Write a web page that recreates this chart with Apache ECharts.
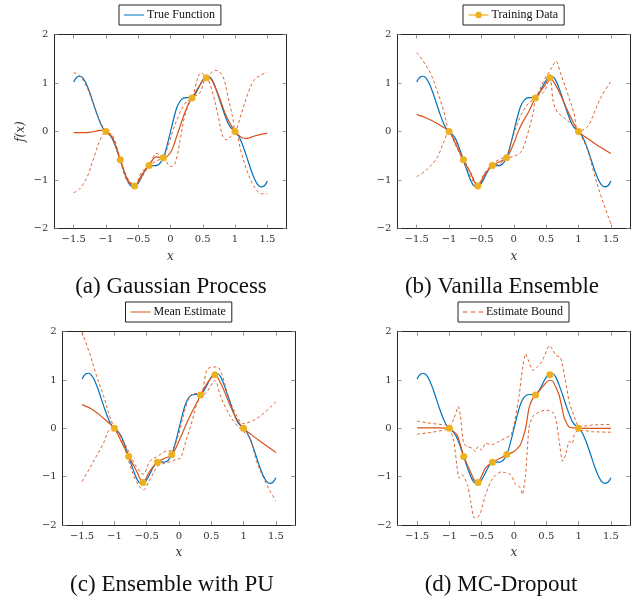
<!DOCTYPE html>
<html>
<head>
<meta charset="utf-8">
<script src="https://cdn.jsdelivr.net/npm/echarts@6/dist/echarts.min.js"></script>
<style>
html,body{margin:0;padding:0;background:#fff;}
#chart{width:634px;height:597px;}
</style>
</head>
<body>
<div id="chart"></div>
<script>
const xTicks = [-1.5, -1, -0.5, 0, 0.5, 1, 1.5];
const yTicks = [-2, -1, 0, 1, 2];
const seriesNames = ['True Function', 'Training Data', 'Mean Estimate', 'Estimate Bound'];
const captions = ['(a) Gaussian Process', '(b) Vanilla Ensemble', '(c) Ensemble with PU', '(d) MC-Dropout'];

const trueFunction = [
[-1.5,1.02],[-1.45,1.12],[-1.4,1.14],[-1.35,1.09],[-1.3,0.97],[-1.25,0.8],[-1.2,0.6],[-1.15,0.4],[-1.1,0.22],[-1.05,0.08],
[-1.0,0.0],[-0.95,-0.06],[-0.9,-0.15],[-0.85,-0.31],[-0.8,-0.5],[-0.75,-0.7],[-0.7,-0.89],[-0.65,-1.05],[-0.6,-1.13],[-0.55,-1.13],
[-0.5,-1.06],[-0.45,-0.94],[-0.4,-0.81],[-0.35,-0.72],[-0.3,-0.7],[-0.25,-0.7],[-0.2,-0.69],[-0.15,-0.63],[-0.1,-0.5],[-0.05,-0.27],
[0.0,0.0],[0.05,0.27],[0.1,0.5],[0.15,0.63],[0.2,0.69],[0.25,0.7],[0.3,0.7],[0.35,0.72],[0.4,0.81],[0.45,0.94],
[0.5,1.06],[0.55,1.13],[0.6,1.13],[0.65,1.05],[0.7,0.89],[0.75,0.7],[0.8,0.5],[0.85,0.31],[0.9,0.15],[0.95,0.06],
[1.0,0.0],[1.05,-0.08],[1.1,-0.22],[1.15,-0.4],[1.2,-0.6],[1.25,-0.8],[1.3,-0.97],[1.35,-1.09],[1.4,-1.14],[1.45,-1.12],[1.5,-1.02]
];

const trainingData = [[-1.0,0.0],[-0.778,-0.58],[-0.556,-1.12],[-0.333,-0.7],[-0.111,-0.54],[0.333,0.69],[0.556,1.11],[1.0,0.0]];

const gpMean = [[-1.5,-0.02],[-1.3,-0.02],[-1.15,0.01],[-1.05,0.03],[-1.0,0.0],[-0.9,-0.12],[-0.778,-0.58],[-0.67,-0.98],[-0.556,-1.12],[-0.45,-0.9],[-0.333,-0.7],[-0.22,-0.52],[-0.111,-0.54],[0.0,-0.43],[0.1,-0.08],[0.2,0.31],[0.27,0.55],[0.333,0.69],[0.45,0.95],[0.556,1.12],[0.63,1.08],[0.74,0.76],[0.87,0.3],[1.0,0.0],[1.1,-0.12],[1.18,-0.14],[1.3,-0.09],[1.5,-0.03]];
const gpUpper = [[-1.5,1.22],[-1.4,1.14],[-1.29,0.9],[-1.19,0.55],[-1.09,0.21],[-1.0,0.0],[-0.9,-0.07],[-0.778,-0.56],[-0.67,-0.95],[-0.556,-1.1],[-0.45,-0.84],[-0.333,-0.68],[-0.21,-0.45],[-0.111,-0.53],[-0.05,-0.35],[0.04,0.03],[0.15,0.4],[0.25,0.62],[0.333,0.69],[0.43,1.14],[0.48,1.21],[0.556,1.12],[0.64,1.22],[0.71,1.26],[0.81,1.14],[0.89,0.72],[0.97,0.24],[1.0,0.0],[1.1,0.38],[1.2,0.79],[1.3,1.07],[1.41,1.17],[1.5,1.22]];
const gpLower = [[-1.5,-1.26],[-1.4,-1.17],[-1.29,-0.93],[-1.19,-0.55],[-1.09,-0.17],[-1.0,0.0],[-0.9,-0.15],[-0.778,-0.6],[-0.67,-1.03],[-0.556,-1.13],[-0.45,-0.95],[-0.333,-0.71],[-0.21,-0.6],[-0.111,-0.56],[0.0,-0.72],[0.07,-0.66],[0.15,-0.17],[0.22,0.31],[0.333,0.69],[0.45,0.79],[0.556,1.11],[0.64,0.86],[0.74,0.31],[0.81,-0.1],[0.87,-0.17],[0.94,-0.09],[1.0,0.0],[1.1,-0.45],[1.2,-0.86],[1.3,-1.14],[1.41,-1.28],[1.5,-1.28]];

const veMean = [[-1.5,0.35],[-1.35,0.28],[-1.19,0.17],[-1.0,0.0],[-0.9,-0.25],[-0.778,-0.58],[-0.67,-0.85],[-0.556,-1.12],[-0.45,-0.88],[-0.333,-0.7],[-0.22,-0.62],[-0.111,-0.54],[0.0,-0.24],[0.1,0.1],[0.23,0.41],[0.333,0.69],[0.47,0.93],[0.556,1.1],[0.67,0.9],[0.8,0.52],[0.9,0.24],[1.0,0.0],[1.14,-0.14],[1.29,-0.28],[1.5,-0.45]];
const veUpper = [[-1.5,1.63],[-1.4,1.45],[-1.29,1.21],[-1.19,0.86],[-1.09,0.45],[-1.0,0.0],[-0.9,-0.2],[-0.778,-0.55],[-0.67,-0.83],[-0.556,-1.08],[-0.45,-0.85],[-0.333,-0.67],[-0.22,-0.57],[-0.111,-0.5],[-0.03,-0.17],[0.1,0.31],[0.23,0.59],[0.333,0.69],[0.47,1.07],[0.54,1.21],[0.6,1.35],[0.65,1.45],[0.72,1.21],[0.83,0.79],[0.93,0.38],[1.0,0.0],[1.14,0.1],[1.24,0.38],[1.35,0.72],[1.5,1.03]];
const veLower = [[-1.5,-0.93],[-1.35,-0.79],[-1.19,-0.55],[-1.09,-0.24],[-1.0,0.0],[-0.9,-0.28],[-0.778,-0.62],[-0.67,-0.92],[-0.556,-1.14],[-0.45,-0.9],[-0.333,-0.72],[-0.22,-0.66],[-0.111,-0.56],[0.05,-0.48],[0.13,-0.38],[0.23,0.03],[0.31,0.45],[0.333,0.69],[0.47,0.83],[0.556,1.1],[0.61,0.62],[0.67,0.41],[0.78,0.28],[0.88,0.17],[1.0,0.0],[1.14,-0.38],[1.24,-0.86],[1.35,-1.34],[1.45,-1.72],[1.5,-1.9]];

const puMean = [[-1.5,0.49],[-1.33,0.38],[-1.17,0.21],[-1.0,0.0],[-0.89,-0.28],[-0.778,-0.58],[-0.67,-0.85],[-0.556,-1.11],[-0.45,-0.88],[-0.333,-0.7],[-0.22,-0.62],[-0.111,-0.55],[0.02,-0.2],[0.15,0.2],[0.333,0.68],[0.43,0.92],[0.556,1.1],[0.66,0.89],[0.79,0.48],[0.89,0.2],[1.0,0.0],[1.13,-0.14],[1.26,-0.27],[1.5,-0.5]];
const puUpper = [[-1.5,1.99],[-1.38,1.54],[-1.28,1.1],[-1.17,0.68],[-1.07,0.24],[-1.0,0.02],[-0.89,-0.2],[-0.778,-0.48],[-0.68,-0.75],[-0.556,-0.95],[-0.45,-0.68],[-0.333,-0.58],[-0.22,-0.48],[-0.111,-0.45],[-0.01,-0.14],[0.07,0.27],[0.15,0.62],[0.22,0.72],[0.333,0.72],[0.43,1.2],[0.51,1.27],[0.59,1.27],[0.66,1.13],[0.76,0.68],[0.89,0.27],[1.0,0.1],[1.16,0.17],[1.31,0.31],[1.5,0.55]];
const puLower = [[-1.5,-1.1],[-1.38,-0.82],[-1.28,-0.58],[-1.17,-0.31],[-1.07,-0.03],[-1.0,-0.02],[-0.91,-0.14],[-0.778,-0.68],[-0.66,-1.1],[-0.55,-1.27],[-0.45,-1.06],[-0.333,-0.79],[-0.22,-0.72],[-0.111,-0.68],[-0.04,-0.64],[0.02,-0.62],[0.09,-0.34],[0.2,0.14],[0.27,0.48],[0.333,0.64],[0.43,0.75],[0.556,0.99],[0.64,0.68],[0.74,0.38],[0.87,0.1],[1.0,-0.07],[1.1,-0.2],[1.2,-0.68],[1.31,-1.03],[1.41,-1.3],[1.5,-1.5]];

const mcMean = [[-1.5,0.01],[-1.2,0.01],[-1.0,0.0],[-0.88,-0.14],[-0.8,-0.48],[-0.778,-0.58],[-0.7,-0.82],[-0.62,-1.06],[-0.556,-1.11],[-0.44,-0.82],[-0.333,-0.7],[-0.23,-0.63],[-0.111,-0.55],[0.0,-0.48],[0.1,-0.34],[0.18,0.0],[0.23,0.41],[0.29,0.62],[0.333,0.68],[0.44,0.86],[0.54,0.99],[0.6,0.98],[0.7,0.68],[0.78,0.21],[0.85,0.03],[1.0,0.0],[1.5,0.0]];
const mcUpper = [[-1.5,0.15],[-1.27,0.1],[-1.06,0.07],[-1.0,0.03],[-0.93,0.2],[-0.86,0.45],[-0.83,0.27],[-0.78,-0.31],[-0.72,-0.38],[-0.65,-0.41],[-0.6,-0.48],[-0.56,-0.38],[-0.5,-0.45],[-0.44,-0.31],[-0.336,-0.34],[-0.233,-0.27],[-0.13,-0.2],[-0.05,-0.14],[0.0,0.07],[0.08,0.68],[0.13,1.23],[0.18,1.54],[0.233,1.37],[0.285,1.2],[0.36,1.27],[0.44,1.4],[0.543,1.71],[0.595,1.64],[0.647,1.51],[0.72,1.47],[0.8,0.96],[0.853,0.55],[0.905,0.34],[0.96,0.14],[1.0,0.03],[1.22,0.07],[1.5,0.08]];
const mcLower = [[-1.5,-0.12],[-1.27,-0.08],[-1.06,-0.03],[-1.0,0.0],[-0.93,-0.27],[-0.88,-0.82],[-0.85,-1.03],[-0.8,-0.96],[-0.72,-1.16],[-0.67,-1.51],[-0.62,-1.85],[-0.57,-1.85],[-0.52,-1.75],[-0.44,-1.37],[-0.36,-1.1],[-0.28,-0.96],[-0.2,-0.9],[-0.13,-0.92],[-0.05,-0.96],[0.026,-1.16],[0.1,-1.23],[0.13,-1.37],[0.18,-0.96],[0.23,0.0],[0.285,0.24],[0.39,0.34],[0.49,0.38],[0.595,0.34],[0.647,0.2],[0.7,-0.27],[0.75,-0.68],[0.8,-0.55],[0.853,-0.27],[0.905,-0.31],[0.93,-0.14],[1.0,-0.03],[1.22,-0.07],[1.5,-0.08]];

const panels = [
  {mean: gpMean, upper: gpUpper, lower: gpLower, smooth: 0.35},
  {mean: veMean, upper: veUpper, lower: veLower, smooth: 0.35},
  {mean: puMean, upper: puUpper, lower: puLower, smooth: 0.35},
  {mean: mcMean, upper: mcUpper, lower: mcLower, smooth: 0.15}
];

const C_BLUE = '#0072BD', C_RED = '#D95319', C_YEL = '#EDB120';
const SERIF = '"Liberation Serif", "DejaVu Serif", serif';
const TICKFONT = '"DejaVu Serif", serif';

const grids = [
  {left: 54.3, top: 34.5, width: 232.4, height: 194.2},
  {left: 397.3, top: 34.5, width: 233, height: 194.2},
  {left: 62.7, top: 331.7, width: 232.6, height: 193.3},
  {left: 397.7, top: 331.7, width: 232.6, height: 193.3}
];
const legendPos = [
  {left: 119, top: 5}, {left: 463, top: 5}, {left: 125.5, top: 302}, {left: 458, top: 302}
];
const captionPos = [[171, 287], [502, 287], [172, 585], [501, 585]];

const ICON_SOLID = 'path://M0,0 L20,0 L20,0.01 Z M0,3.4 L20,3.4 L20,4.6 L0,4.6 Z M0,8 L20,8 L20,7.99 Z';
const ICON_DASH = 'path://M0,0 L20,0 L20,0.01 Z M0,3.5 L4.5,3.5 L4.5,4.5 L0,4.5 Z M7.75,3.5 L12.25,3.5 L12.25,4.5 L7.75,4.5 Z M15.5,3.5 L20,3.5 L20,4.5 L15.5,4.5 Z M0,8 L20,8 L20,7.99 Z';

function fmt(v) {
  const s = String(Math.abs(v));
  return v < 0 ? '\u2212' + s : s;
}

const xAxes = [], yAxes = [], series = [], legends = [], graphics = [];
grids.forEach((g, i) => {
  const baseX = {
    type: 'value', gridIndex: i, min: -1.8, max: 1.8,
    axisLine: {show: true, onZero: false, lineStyle: {color: '#262626', width: 1}},
    axisTick: {show: true, inside: true, length: 4, customValues: xTicks, lineStyle: {color: '#7a7a7a', width: 0.8}},
    splitLine: {show: false}
  };
  xAxes.push(Object.assign({}, baseX, {
    position: 'bottom',
    axisLabel: {show: true, customValues: xTicks, formatter: fmt, margin: 6, color: '#333', fontSize: 10, fontFamily: TICKFONT},
    name: 'x', nameLocation: 'middle', nameGap: 22,
    nameTextStyle: {fontStyle: 'italic', fontFamily: TICKFONT, fontSize: 12, color: '#333'}
  }));
  xAxes.push(Object.assign({}, baseX, {position: 'top', axisLabel: {show: false}}));
  const baseY = {
    type: 'value', gridIndex: i, min: -2, max: 2, interval: 1,
    axisLine: {show: true, onZero: false, lineStyle: {color: '#262626', width: 1}},
    axisTick: {show: true, inside: true, length: 4, lineStyle: {color: '#7a7a7a', width: 0.8}},
    splitLine: {show: false}
  };
  const yl = Object.assign({}, baseY, {
    position: 'left',
    axisLabel: {show: true, formatter: fmt, margin: 6, color: '#333', fontSize: 10, fontFamily: TICKFONT}
  });
  if (i === 0) {
    yl.name = 'f(x)';
    yl.nameLocation = 'middle';
    yl.nameGap = 27;
    yl.nameRotate = 90;
    yl.nameTextStyle = {fontStyle: 'italic', fontFamily: TICKFONT, fontSize: 12, color: '#333'};
  }
  yAxes.push(yl);
  yAxes.push(Object.assign({}, baseY, {position: 'right', axisLabel: {show: false}}));

  const xi = 2 * i, yi = 2 * i;
  const p = panels[i];
  series.push({
    name: seriesNames[0], type: 'line', xAxisIndex: xi, yAxisIndex: yi, data: trueFunction,
    smooth: 0.4, symbol: 'none', lineStyle: {color: C_BLUE, width: 1.2}, itemStyle: {color: C_BLUE}, z: 2
  });
  series.push({
    name: seriesNames[2], type: 'line', xAxisIndex: xi, yAxisIndex: yi, data: p.mean,
    smooth: p.smooth, symbol: 'none', lineStyle: {color: C_RED, width: 1.2}, itemStyle: {color: C_RED}, z: 3
  });
  [p.upper, p.lower].forEach(d => {
    series.push({
      name: seriesNames[3], type: 'line', xAxisIndex: xi, yAxisIndex: yi, data: d,
      smooth: p.smooth, symbol: 'none',
      lineStyle: {color: C_RED, width: 1, type: [3, 2.5], opacity: 0.9}, itemStyle: {color: C_RED}, z: 4
    });
  });
  series.push({
    name: seriesNames[1], type: 'line', xAxisIndex: xi, yAxisIndex: yi, data: trainingData,
    symbol: 'circle', symbolSize: 7, showSymbol: true,
    lineStyle: {color: C_YEL, width: 0, opacity: 0}, itemStyle: {color: C_YEL}, z: 5
  });

  const lg = {
    show: true, left: legendPos[i].left, top: legendPos[i].top,
    orient: 'horizontal', itemWidth: 20, itemHeight: 8, padding: [4, 6, 4, 5],
    borderColor: '#222', borderWidth: 1, borderRadius: 0, backgroundColor: '#fff',
    selectedMode: false,
    textStyle: {fontFamily: SERIF, fontSize: 12, color: '#111', padding: [0, 0, 0, -2]}
  };
  if (i === 1) {
    lg.data = [seriesNames[1]];
    lg.lineStyle = {color: C_YEL, width: 1.2, opacity: 1};
    lg.itemStyle = {color: C_YEL};
  } else if (i === 3) {
    lg.data = [{name: seriesNames[3], icon: ICON_DASH, itemStyle: {color: C_RED}}];
  } else {
    const col = i === 0 ? C_BLUE : C_RED;
    lg.data = [{name: seriesNames[i], icon: ICON_SOLID, itemStyle: {color: col}}];
  }
  legends.push(lg);

  graphics.push({
    type: 'text', x: captionPos[i][0], y: captionPos[i][1],
    style: {text: captions[i], font: '23px "Liberation Serif", serif', fill: '#111', align: 'center', verticalAlign: 'middle'}
  });
});

const chart = echarts.init(document.getElementById('chart'), null, {renderer: 'canvas'});
chart.setOption({
  animation: false,
  backgroundColor: '#fff',
  grid: grids.map(g => Object.assign({outerBoundsMode: 'none', containLabel: false}, g)),
  xAxis: xAxes,
  yAxis: yAxes,
  legend: legends,
  series: series,
  graphic: graphics
});
</script>
</body>
</html>
